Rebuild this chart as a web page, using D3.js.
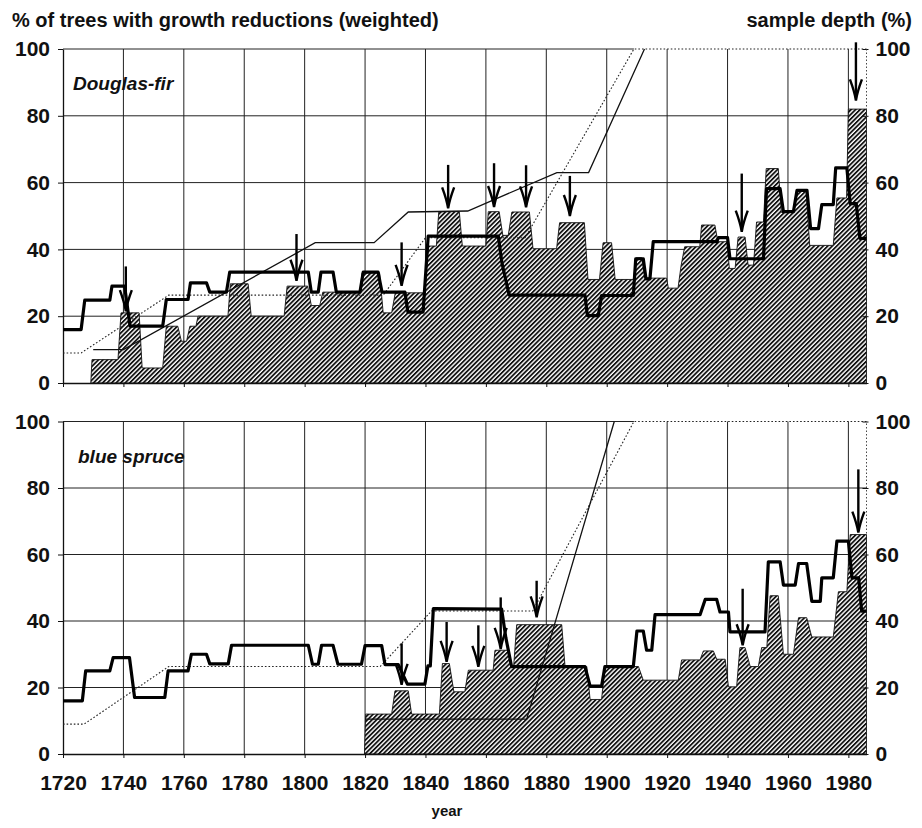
<!DOCTYPE html>
<html>
<head>
<meta charset="utf-8">
<script src="https://cdn.jsdelivr.net/npm/d3@7"></script>
<style>
  html, body { margin: 0; padding: 0; background: #fff; }
  svg text { font-family: "Liberation Sans", Arial, Helvetica, sans-serif; font-weight: 700; fill: #111; }
</style>
</head>
<body>
<svg id="chart" width="922" height="828"></svg>
<script>
// ---- axis ticks ----
const yearTicks = [1720, 1740, 1760, 1780, 1800, 1820, 1840, 1860, 1880, 1900, 1920, 1940, 1960, 1980];
const valueTicks = [0, 20, 40, 60, 80, 100];

// ---- Douglas-fir: [year, value] corner points ----
const dfReductions = [[1729.2,0],[1729.6,7],[1738.2,7],[1739.2,21],[1745.2,21],[1746.2,4.5],[1753,4.5],[1754.2,17],[1758,17],[1759.2,12.5],[1760.9,12.5],[1762,17],[1764,17],[1764.7,20],[1774.6,20],[1775.4,29.7],[1781.3,29.7],[1782.3,20],[1793.2,20],[1794.2,29],[1801,29],[1802.2,23.2],[1805,23.2],[1806,27.2],[1818.3,27.2],[1819,33],[1824.8,33],[1826,21],[1828.8,21],[1830,27],[1839.6,27],[1841,41],[1843.6,41],[1844.4,51.3],[1851.2,51.3],[1852.2,41],[1860,41],[1860.8,51.3],[1864.4,51.3],[1865.6,44.2],[1867.4,44.2],[1868.6,51.2],[1874.4,51.2],[1875.6,40.2],[1883.4,40.2],[1884.4,48],[1892.6,48],[1893.8,31],[1897.6,31],[1898.8,42],[1901.6,42],[1902.8,31],[1908.8,31],[1909.8,37.5],[1911.6,37.5],[1912.6,31.4],[1919.8,31.4],[1920.4,28.4],[1923.6,28.4],[1924.6,35],[1925.8,40.8],[1930.8,40.8],[1931.4,47.3],[1935.8,47.3],[1936.8,42.3],[1939.8,42.3],[1940.6,34.3],[1942.5,34.3],[1943.5,43.7],[1945.8,43.7],[1946.8,35.3],[1948.6,35.3],[1949.6,48.2],[1951.9,48.2],[1952.8,64.2],[1956.8,64.2],[1957.8,51.1],[1961.8,51.1],[1962.8,57.4],[1966,57.4],[1967.2,41.2],[1975,41.2],[1976.2,55.4],[1979.4,55.4],[1980,82],[1986,82],[1986,0]];
const dfStepLine = [[1720,16],[1726,16],[1727.2,24.8],[1735.5,24.8],[1736.2,29],[1740.4,29],[1742.2,17],[1753,17],[1754.2,25],[1761.4,25],[1762.2,30],[1767.5,30],[1768.6,27.2],[1774.1,27.2],[1775.2,33.2],[1801.2,33.2],[1802.2,27.2],[1804.5,27.2],[1805.4,33.2],[1809.4,33.2],[1810.5,27.2],[1818.3,27.2],[1819.4,33.2],[1824.3,33.2],[1825.6,27.2],[1833.2,27.2],[1834.2,21.2],[1839.2,21.2],[1840.9,44],[1864.1,44],[1865.3,36],[1867.7,26.3],[1892.8,26.3],[1893.6,20.2],[1897.2,20.2],[1898.3,26.2],[1908.8,26.2],[1909.6,37.2],[1912.1,37.2],[1913,31.2],[1914.3,31.2],[1915.4,42.3],[1936.4,42.3],[1937,43.5],[1940,43.5],[1940.8,37.2],[1951.9,37.2],[1952.9,58.2],[1957.4,58.2],[1958.5,51.3],[1961.8,51.3],[1963,57.7],[1966.3,57.7],[1967.5,46.2],[1970.1,46.2],[1971.2,53.4],[1975,53.4],[1975.8,64.4],[1979.5,64.4],[1980.6,53.7],[1982.6,53.7],[1983.8,43.3],[1986,43.3]];
const dfDepthSolid = [[1730,10],[1740,10],[1803.5,42],[1823,42],[1834.3,51.2],[1854,51.5],[1883.5,63],[1894,63],[1912.5,100]];
const dfDepthDotted = [[1720,9],[1726,9],[1755,26.3],[1826,26.3],[1840,43.5],[1873,43.5],[1909,100],[1986,100]];
// [year, arrow tip value, arrow tail value]
const dfArrows = [[1740.8,21.5,34.9],[1797.3,30.6,44.6],[1832.1,29.1,42.1],[1847.5,52.3,65.3],[1862.7,52.7,65.8],[1873.3,52.6,65.2],[1887.8,50,62],[1944.7,45.3,62.7],[1982.5,84.6,102]];

// ---- blue spruce ----
const bsReductions = [[1819.8,0],[1820.2,12],[1828.8,12],[1829.9,19],[1834.3,19],[1835.4,12],[1844.6,12],[1845.6,27.2],[1847.9,27.2],[1849.4,18.7],[1853,18.7],[1854.2,25.2],[1862.4,25.2],[1863,31.2],[1867.4,31.2],[1868.2,26.5],[1869.2,26.5],[1870.2,38.9],[1885.1,38.9],[1886.2,26.3],[1893.4,26.3],[1894.5,16.4],[1898.3,16.4],[1899.4,26.3],[1910.5,26.3],[1912.1,22.2],[1923.7,22.2],[1924.8,28.3],[1930.9,28.3],[1932,31],[1935.3,31],[1936.4,28.5],[1939.2,28.5],[1940.3,20.2],[1943,20.2],[1944.1,32],[1945.8,32],[1947.5,26.3],[1950.2,26.3],[1951.3,32],[1953,32],[1954.1,47.6],[1956.8,47.6],[1958.5,30],[1961.8,30],[1963.5,41],[1966.2,41],[1967.9,35.2],[1975,35.2],[1976.7,48.8],[1979.5,48.8],[1980.6,66],[1986,66],[1986,0]];
const bsStepLine = [[1720,16],[1726.4,16],[1727.5,25],[1735.5,25],[1736.6,29],[1742,29],[1743.7,17],[1753.7,17],[1754.8,25],[1761.4,25],[1762.5,30],[1767.5,30],[1768.6,27.1],[1774.7,27.1],[1775.8,32.7],[1801.2,32.7],[1802.6,27],[1804.5,27],[1805.6,32.7],[1809.4,32.7],[1811,27],[1818.8,27],[1820,32.6],[1825.5,32.6],[1826.6,26.9],[1831,26.9],[1834,21],[1839.8,21],[1840.8,26.5],[1841.6,26.5],[1842.6,43.7],[1865.2,43.6],[1866.6,35],[1868.5,26.3],[1892.8,26.3],[1894.5,20.4],[1898.3,20.4],[1899.4,26.3],[1908.8,26.3],[1910,37],[1912.1,37],[1913.2,31.2],[1914.9,31.2],[1916,41.9],[1930.9,41.9],[1932.6,46.5],[1936.4,46.5],[1937.5,42.7],[1940.3,42.7],[1940.8,36.7],[1952.4,36.7],[1953.5,57.8],[1957.4,57.8],[1958.5,50.8],[1962.4,50.8],[1963.5,57.3],[1966.2,57.3],[1967.9,45.9],[1970.7,45.9],[1971.2,53],[1975,53],[1976.2,64],[1980,64],[1981.2,53],[1983.4,53],[1984.4,43],[1986,43]];
const bsDepthSolid = [[1820,10.5],[1873.5,10.5],[1902.5,100]];
const bsDepthDotted = [[1720,9],[1727,9],[1755,26.3],[1825,26.3],[1842,43],[1875.5,43],[1909,100],[1986,100]];
const bsArrows = [[1832.1,20.8,33.3],[1847,27.7,39.7],[1857.5,26.2,38.7],[1864.9,31.6,47.1],[1876.8,41.1,52.1],[1945,32.7,49.7],[1983.3,66.6,85.6]];

// ---- layout ----
const FONT = '"Liberation Sans", Arial, Helvetica, sans-serif';
const svg = d3.select("#chart");
const x = d3.scaleLinear().domain([1720, 1986]).range([63, 866.5]);

const panels = [
  { label: "Douglas-fir", labelPos: [73, 90], top: 49, bottom: 383, showYears: false,
    shade: dfReductions, step: dfStepLine, solid: dfDepthSolid, dotted: dfDepthDotted, arrows: dfArrows },
  { label: "blue spruce", labelPos: [78, 463], top: 421.5, bottom: 754, showYears: true,
    shade: bsReductions, step: bsStepLine, solid: bsDepthSolid, dotted: bsDepthDotted, arrows: bsArrows }
];

// diagonal hatching for the growth-reduction areas
const defs = svg.append("defs");
const pat = defs.append("pattern")
  .attr("id", "hatch").attr("patternUnits", "userSpaceOnUse")
  .attr("width", 3.2).attr("height", 3.2)
  .attr("patternTransform", "rotate(45)");
pat.append("rect").attr("width", 3.2).attr("height", 3.2).attr("fill", "#fff");
pat.append("line").attr("x1", 0.9).attr("x2", 0.9).attr("y1", 0).attr("y2", 3.2)
  .attr("stroke", "#111").attr("stroke-width", 1.8);

function styleAxis(g, size) {
  g.attr("font-family", FONT).attr("font-size", size).attr("font-weight", 700);
  g.selectAll("text").attr("fill", "#111");
  g.selectAll("line").attr("stroke", "#111");
}

function drawPanel(p) {
  const y = d3.scaleLinear().domain([0, 100]).range([p.bottom, p.top]);
  const g = svg.append("g");

  // vertical grid
  g.selectAll("line.vgrid").data(yearTicks.slice(1)).join("line")
    .attr("class", "vgrid")
    .attr("x1", d => x(d)).attr("x2", d => x(d))
    .attr("y1", y(0)).attr("y2", y(100))
    .attr("stroke", "#222").attr("stroke-width", 1);

  // horizontal grid; the 100 line runs until the dotted depth curve takes over
  const reach = p.dotted.find(d => d[1] >= 100)[0];
  g.selectAll("line.hgrid").data(valueTicks.slice(1)).join("line")
    .attr("class", "hgrid")
    .attr("x1", x(1720))
    .attr("x2", d => d === 100 ? x(reach) : x.range()[1])
    .attr("y1", d => y(d)).attr("y2", d => y(d))
    .attr("stroke", "#222").attr("stroke-width", 1);

  // hatched growth-reduction area
  const area = d3.area().x(d => x(d[0])).y0(y(0)).y1(d => y(d[1]));
  g.append("path").datum(p.shade)
    .attr("d", area)
    .attr("fill", "url(#hatch)")
    .attr("stroke", "#111").attr("stroke-width", 0.9);

  // left axis
  const left = g.append("g").attr("transform", `translate(${x(1720)},0)`)
    .call(d3.axisLeft(y).tickValues(valueTicks).tickSizeInner(5).tickSizeOuter(0).tickPadding(8));
  styleAxis(left, 21);
  left.select(".domain").attr("stroke", "#111").attr("stroke-width", 1.3);

  // right axis (sample depth)
  const right = g.append("g").attr("transform", `translate(${x.range()[1] - 4},0)`)
    .call(d3.axisRight(y).tickValues(valueTicks).tickSizeInner(6).tickSizeOuter(0).tickPadding(7));
  styleAxis(right, 21);
  right.select(".domain").remove();
  g.append("line")
    .attr("x1", x.range()[1]).attr("x2", x.range()[1])
    .attr("y1", y(0)).attr("y2", y(100))
    .attr("stroke", "#333").attr("stroke-width", 0.9).attr("stroke-dasharray", "1.5,2");

  // bottom axis
  const bottom = g.append("g").attr("transform", `translate(0,${y(0)})`)
    .call(d3.axisBottom(x).tickValues(yearTicks).tickSizeInner(4).tickSizeOuter(0).tickPadding(17)
      .tickFormat(p.showYears ? d3.format("d") : () => ""));
  styleAxis(bottom, 21);
  bottom.select(".domain").attr("stroke", "#111").attr("stroke-width", 1.6);

  const line = d3.line().x(d => x(d[0])).y(d => y(d[1]));

  // sample depth curves
  g.append("path").datum(p.dotted).attr("d", line)
    .attr("fill", "none").attr("stroke", "#222").attr("stroke-width", 1.1)
    .attr("stroke-dasharray", "1.6,2");
  g.append("path").datum(p.solid).attr("d", line)
    .attr("fill", "none").attr("stroke", "#111").attr("stroke-width", 1.3);

  // thick step line
  g.append("path").datum(p.step).attr("d", line)
    .attr("fill", "none").attr("stroke", "#000").attr("stroke-width", 3.2)
    .attr("stroke-linejoin", "round");

  // event arrows
  const arrows = g.selectAll("g.arrow").data(p.arrows).join("g").attr("class", "arrow");
  arrows.append("line")
    .attr("x1", d => x(d[0])).attr("x2", d => x(d[0]))
    .attr("y1", d => y(d[2])).attr("y2", d => y(d[1]) - 3)
    .attr("stroke", "#000").attr("stroke-width", 2.4);
  arrows.append("path")
    .attr("d", d => {
      const ax = x(d[0]), ty = y(d[1]);
      return `M${ax - 6},${ty - 21} Q${ax - 1.5},${ty - 9} ${ax},${ty} Q${ax + 1.5},${ty - 9} ${ax + 6},${ty - 21}`;
    })
    .attr("fill", "none").attr("stroke", "#000").attr("stroke-width", 2.4)
    .attr("stroke-linejoin", "miter");

  // species label
  g.append("text")
    .attr("x", p.labelPos[0]).attr("y", p.labelPos[1])
    .attr("font-size", 19).attr("font-style", "italic")
    .text(p.label);
}

panels.forEach(drawPanel);

// titles
svg.append("text").attr("x", 12).attr("y", 27).attr("font-size", 20)
  .text("% of trees with growth reductions (weighted)");
svg.append("text").attr("x", 912).attr("y", 27).attr("font-size", 20).attr("text-anchor", "end")
  .text("sample depth (%)");
svg.append("text").attr("x", 447).attr("y", 816).attr("font-size", 15).attr("text-anchor", "middle")
  .text("year");
</script>
</body>
</html>
